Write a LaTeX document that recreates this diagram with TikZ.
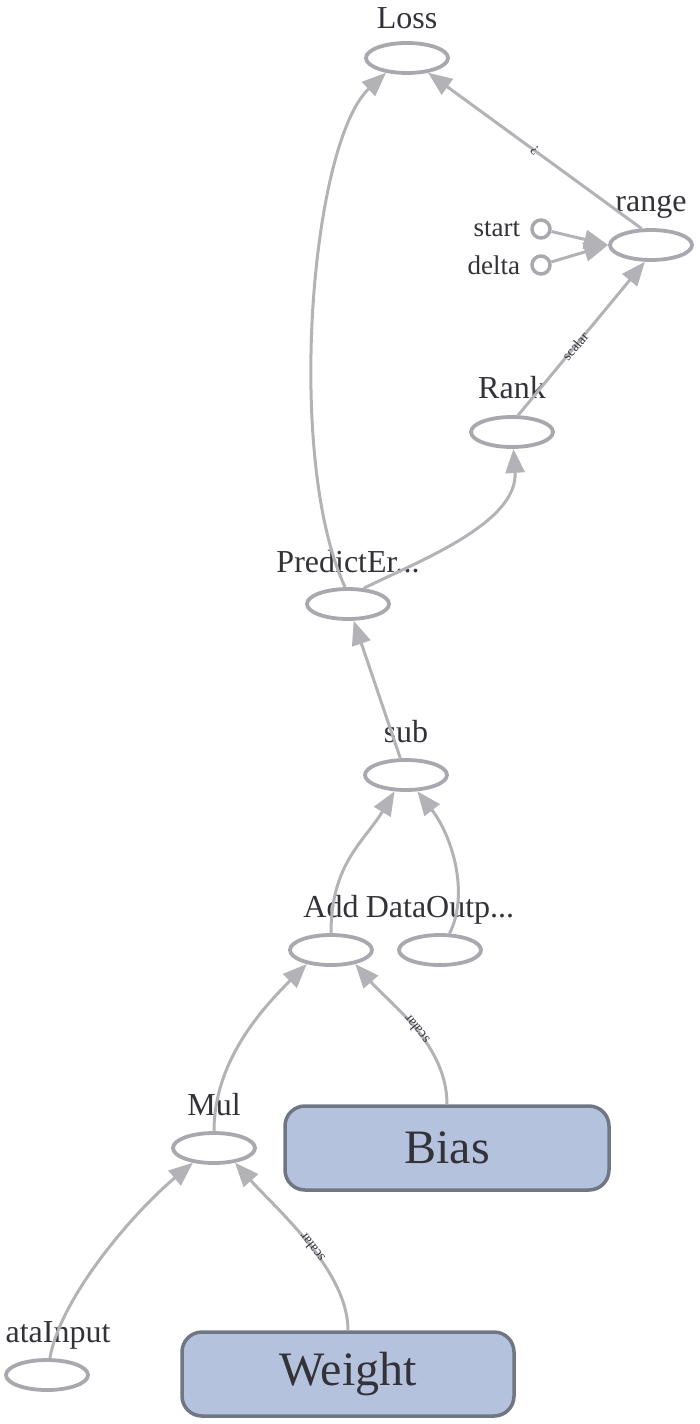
\documentclass[tikz,border=0pt]{standalone}
\usepackage{fontspec}
\setmainfont{Liberation Serif}
\usetikzlibrary{shapes.geometric,arrows.meta,positioning}
\definecolor{edgegray}{RGB}{178,178,183}
\definecolor{opgray}{RGB}{168,168,174}
\definecolor{varfill}{RGB}{181,194,222}
\definecolor{varline}{RGB}{112,118,132}
\definecolor{txtgray}{RGB}{50,50,56}
\begin{document}
\begin{tikzpicture}[x=1pt, y=-1pt,
    op/.style={ellipse, draw=opgray, line width=3.8pt, minimum width=82pt, minimum height=30pt, inner sep=0pt},
    const/.style={circle, draw=opgray, line width=3.5pt, minimum size=18pt, inner sep=0pt},
    var/.style={rectangle, rounded corners=20pt, draw=varline, line width=3.5pt, fill=varfill,
      minimum height=84pt, text=txtgray, font=\fontsize{48}{52}\selectfont},
    lbl/.style={inner sep=0pt, text depth=0pt, text=txtgray, font=\fontsize{32}{36}\selectfont},
    small/.style={inner sep=0pt, text depth=0pt, text=txtgray, font=\fontsize{27}{30}\selectfont},
    flow/.style={draw=edgegray, line width=3pt, -{Triangle[length=24pt,width=19pt]}},
    elbl/.style={sloped, allow upside down, inner sep=1pt, text=txtgray, font=\fontsize{14}{15}\selectfont}
  ]
  \useasboundingbox (0,0) rectangle (700,1424);
  % ops
  \node[op] (loss) at (407,58) {};
  \node[op] (rng) at (651,245) {};
  \node[const] (st) at (541,229) {};
  \node[const] (dl) at (541,265) {};
  \node[op] (rank) at (512,432) {};
  \node[op] (pe) at (348,604) {};
  \node[op] (sub) at (406,775) {};
  \node[op] (add) at (331,950) {};
  \node[op] (dout) at (440,950) {};
  \node[op] (mul) at (214,1148) {};
  \node[op] (inp) at (47,1375) {};
  % variables
  \node[var, minimum width=324pt] (bias) at (447,1148) {Bias};
  \node[var, minimum width=332pt] (wt) at (348,1374) {Weight};
  % names
  \node[lbl, above=12pt of loss] (lossL) {Loss};
  \node[lbl, above=16pt of rng] (rngL) {range};
  \node[small, left=10pt of st] (stL) {start};
  \node[small, left=10pt of dl] (dlL) {delta};
  \node[lbl, above=16pt of rank] (rankL) {Rank};
  \node[lbl, above=14pt of pe] (peL) {PredictEr...};
  \node[lbl, above=15pt of sub] (subL) {sub};
  \node[lbl, above=15pt of add] (addL) {Add};
  \node[lbl, above=15pt of dout] (doutL) {DataOutp...};
  \node[lbl, above=15pt of mul] (mulL) {Mul};
  \node[lbl, above=15pt of inp, xshift=11pt] (inpL) {ataInput};
  % edges
  \draw[flow] (pe.100) .. controls +(-60,-130) and +(-75,70) .. (loss.215);
  \draw[flow] (rng.120) -- (loss.-35) node[elbl, pos=.5] {?};
  \draw[flow] (st) -- (rng.west);
  \draw[flow] (dl) -- (rng.west);
  \draw[flow] (rank.70) -- (rng.250) node[elbl, pos=.45] {scalar};
  \draw[flow] (pe.45) .. controls +(50,-25) and +(5,75) .. (rank.-85);
  \draw[flow] (sub) -- (pe);
  \draw[flow] (add.north) .. controls +(0,-70) and +(-30,50) .. (sub.235);
  \draw[flow] (dout.60) .. controls +(20,-40) and +(35,45) .. (sub.-55);
  \draw[flow] (mul.north) .. controls +(0,-70) and +(-45,45) .. (add.210);
  \draw[flow] (bias.north) .. controls +(0,-60) and +(35,40) .. (add.-30) node[elbl, pos=.48] {scalar};
  \draw[flow] (inp.80) .. controls +(10,-60) and +(-60,50) .. (mul.215);
  \draw[flow] (wt.north) .. controls +(0,-60) and +(40,45) .. (mul.-35) node[elbl, pos=.46] {scalar};
\end{tikzpicture}
\end{document}
